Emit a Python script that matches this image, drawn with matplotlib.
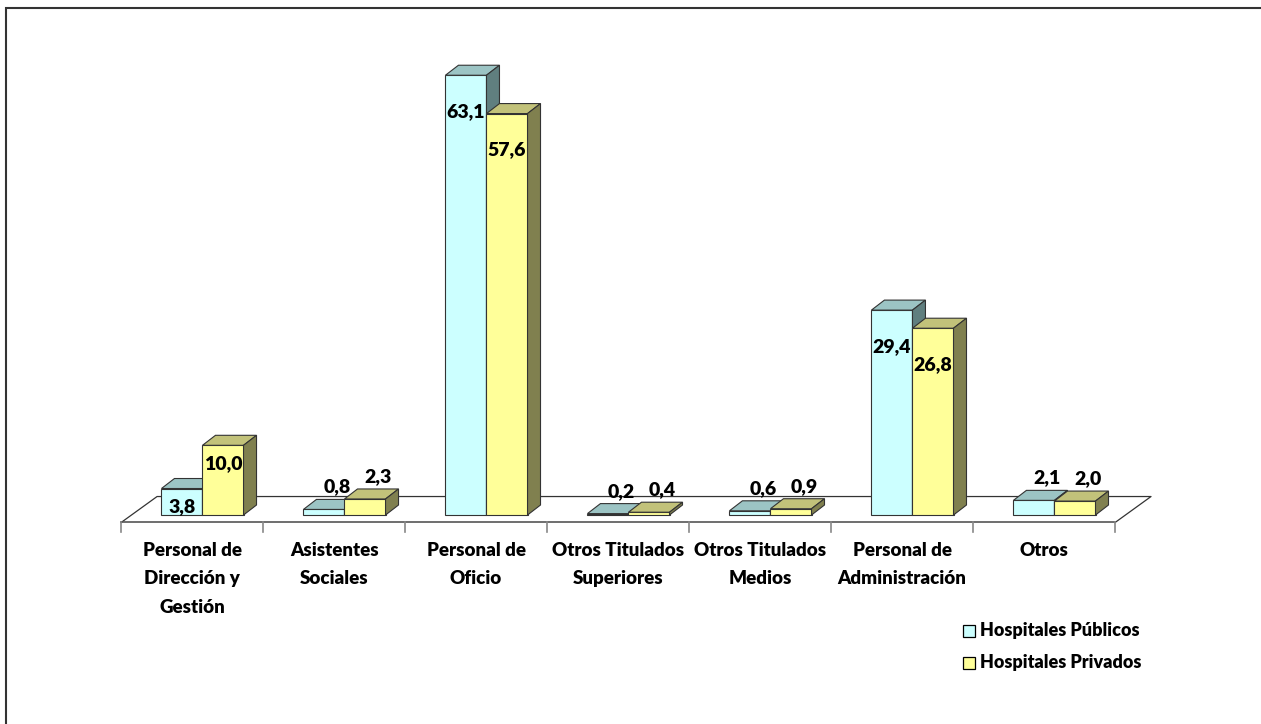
import matplotlib.pyplot as plt
from matplotlib.patches import Polygon, Rectangle

# --------------------------------------------------------------------
# Data
# --------------------------------------------------------------------

categories = [
    "Personal de\nDirección y\nGestión",
    "Asistentes\nSociales",
    "Personal de\nOficio",
    "Otros Titulados\nSuperiores",
    "Otros Titulados\nMedios",
    "Personal de\nAdministración",
    "Otros",
]

publicos = [3.8, 0.8, 63.1, 0.2, 0.6, 29.4, 2.1]
privados = [10.0, 2.3, 57.6, 0.4, 0.9, 26.8, 2.0]

series_names = ["Hospitales Públicos", "Hospitales Privados"]

# face / top / side colours per series
COLORS = [
    ("#CCFFFF", "#9CC4C4", "#607F7F"),
    ("#FFFF99", "#C2C27A", "#80804F"),
]

FONT = "Lato"
WEIGHT = "heavy"

# pseudo-3D geometry (category units / value units)
BAR_W = 0.289
DEPTH_X, DEPTH_Y = 0.0915, 1.435
FLOOR_FX, FLOOR_FY = -0.073, -1.076
FLOOR_BX, FLOOR_BY = 0.180, 2.65
PX_PER_UNIT = 6.97


def draw_bar(ax, x0, v, colors):

    face, top, side = colors

    x1 = x0 + BAR_W

    ax.add_patch(Polygon([(x0, 0), (x1, 0), (x1, v), (x0, v)],
                         facecolor=face, edgecolor="#333333", linewidth=0.8, zorder=3))

    ax.add_patch(Polygon([(x0, v), (x1, v), (x1 + DEPTH_X, v + DEPTH_Y), (x0 + DEPTH_X, v + DEPTH_Y)],
                         facecolor=top, edgecolor="#333333", linewidth=0.8, zorder=3))

    ax.add_patch(Polygon([(x1, 0), (x1 + DEPTH_X, DEPTH_Y), (x1 + DEPTH_X, v + DEPTH_Y), (x1, v)],
                         facecolor=side, edgecolor="#333333", linewidth=0.8, zorder=3))


def label_bar(ax, x0, v):

    text = f"{v:.1f}".replace(".", ",")

    if v > 3:

        offset = -13 if v < 15 else -26

        ax.annotate(text, (x0 + BAR_W / 2, v), xytext=(0, offset), textcoords="offset points",
                    ha="center", va="center", fontsize=14, fontweight=WEIGHT,
                    family=FONT, zorder=5)

    else:

        ax.annotate(text, (x0 + BAR_W / 2 + DEPTH_X, v + DEPTH_Y), xytext=(0, 9),
                    textcoords="offset points", ha="center", va="center",
                    fontsize=14, fontweight=WEIGHT, family=FONT, zorder=5)


fig = plt.figure(figsize=(12.61, 7.24), dpi=100)

# outer frame
fig.add_artist(Rectangle((6 / 1261, -0.1), 1.2, 1 - 8 / 724 + 0.1, transform=fig.transFigure,
                         facecolor="none", edgecolor="#333333", linewidth=1.5))

ax = fig.add_axes([0.0705, 0.2598, 0.8558, 0.6642])

ax.set_xlim(-0.8, 6.8)
ax.set_ylim(-3, 66)
ax.axis("off")

n = len(categories)

# floor
left = -0.5
right = left + n

fl = (left + FLOOR_FX, FLOOR_FY)
fr = (right + FLOOR_FX, FLOOR_FY)
bl = (left + FLOOR_BX, FLOOR_BY)
br = (right + FLOOR_BX, FLOOR_BY)

ax.plot([fl[0], bl[0], br[0], fr[0]], [fl[1], bl[1], br[1], fr[1]],
        color="#333333", linewidth=0.9, zorder=1)
ax.plot([fl[0], fr[0]], [fl[1], fr[1]], color="#555555", linewidth=1.2, zorder=1)

tick_len = 10 / PX_PER_UNIT

for i in range(n + 1):

    tx = left + FLOOR_FX + i

    ax.plot([tx, tx], [FLOOR_FY, FLOOR_FY - tick_len], color="#888888", linewidth=1.2, zorder=1)

# bars
for i in range(n):

    draw_bar(ax, i - BAR_W, publicos[i], COLORS[0])

    draw_bar(ax, i, privados[i], COLORS[1])

for i in range(n):

    label_bar(ax, i - BAR_W, publicos[i])

    label_bar(ax, i, privados[i])

# category labels
for i, cat in enumerate(categories):

    ax.text(i - 0.073, -3.9, cat, ha="center", va="top",
            fontsize=13.5, fontweight=WEIGHT, family=FONT, linespacing=1.8)

# legend
for k, name in enumerate(series_names):

    y = 0.1285 - k * 0.0442

    fig.add_artist(Rectangle((963 / 1261, y - 6 / 724), 12 / 1261, 12 / 724,
                             transform=fig.transFigure, facecolor=COLORS[k][0],
                             edgecolor="black", linewidth=0.9))

    fig.text(980 / 1261, y, name, ha="left", va="center", fontsize=13,
             fontweight=WEIGHT, family=FONT)

fig.savefig("out.png", dpi=100)
